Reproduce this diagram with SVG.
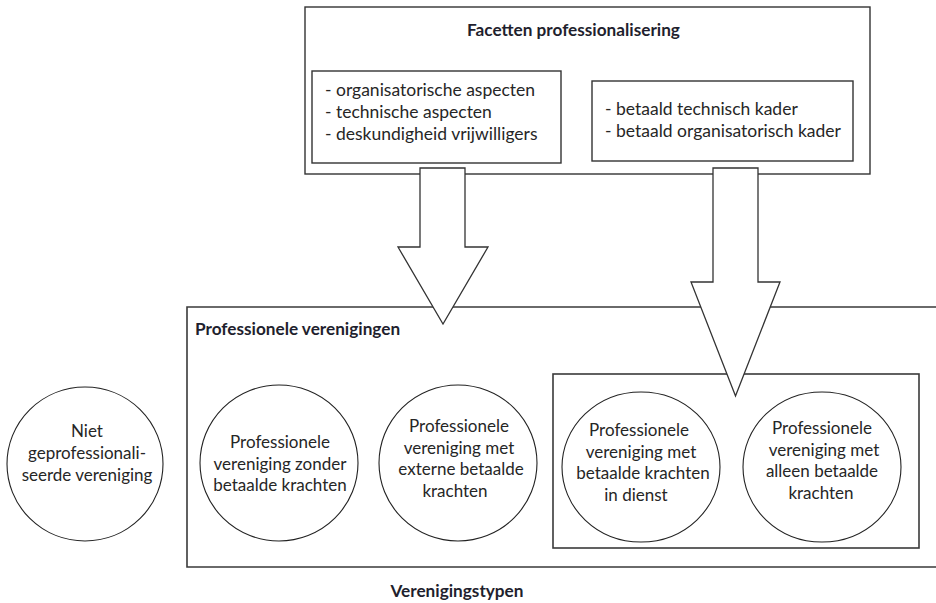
<svg xmlns="http://www.w3.org/2000/svg" width="936" height="603" viewBox="0 0 936 603">
<style>
.box{fill:#fff;stroke:#333;stroke-width:1.4}
.frame{fill:none;stroke:#3a3a3a;stroke-width:1.6}
.circ{fill:#fff;stroke:#222;stroke-width:1.1}
.arrow{fill:#fff;stroke:#333;stroke-width:1.3;stroke-linejoin:miter}
.t{font-family:Lato,"Open Sans",sans-serif;font-size:17.5px;fill:#262626}
.c{font-family:Lato,"Open Sans",sans-serif;font-size:17px;fill:#262626;text-anchor:middle}
.h{font-family:Lato,"Open Sans",sans-serif;font-size:17.2px;font-weight:bold;fill:#1f1f2e}
</style>
<rect width="936" height="603" fill="#fff"/>
<g id="facetten">
<rect class="box" x="305" y="7" width="565" height="167"/>
<text class="h" x="467" y="36">Facetten professionalisering</text>
</g>
<g id="facet-links">
<rect class="box" x="312" y="71" width="249" height="92"/>
<text class="t" x="325" y="96">- organisatorische aspecten</text>
<text class="t" x="325" y="118">- technische aspecten</text>
<text class="t" x="325" y="140">- deskundigheid vrijwilligers</text>
</g>
<g id="facet-rechts">
<rect class="box" x="592" y="81" width="261" height="80"/>
<text class="t" x="605" y="115">- betaald technisch kader</text>
<text class="t" x="605" y="137">- betaald organisatorisch kader</text>
</g>
<g id="professionele-verenigingen">
<path class="frame" d="M940 307 H187 V567 H940"/>
<text class="h" x="195" y="335">Professionele verenigingen</text>
</g>
<g id="betaalde-groep">
<rect class="frame" x="553" y="374" width="366" height="174"/>
</g>
<g id="niet">
<ellipse class="circ" cx="85" cy="464" rx="78" ry="77"/>
<text class="c" x="87" y="437">Niet</text>
<text class="c" x="87" y="459">geprofessionali-</text>
<text class="c" x="87" y="481">seerde vereniging</text>
</g>
<g id="zonder">
<ellipse class="circ" cx="279" cy="463" rx="79" ry="78"/>
<text class="c" x="280" y="448">Professionele</text>
<text class="c" x="280" y="469.5">vereniging zonder</text>
<text class="c" x="280" y="491">betaalde krachten</text>
</g>
<g id="extern">
<ellipse class="circ" cx="458" cy="463" rx="79" ry="78"/>
<text class="c" x="459" y="432">Professionele</text>
<text class="c" x="459" y="453.5">vereniging met</text>
<text class="c" x="461" y="475">externe betaalde</text>
<text class="c" x="455" y="496.5">krachten</text>
</g>
<g id="in-dienst">
<ellipse class="circ" cx="641" cy="467" rx="79" ry="75"/>
<text class="c" x="639" y="436">Professionele</text>
<text class="c" x="641" y="457.5">vereniging met</text>
<text class="c" x="643" y="479">betaalde krachten</text>
<text class="c" x="636" y="500.5">in dienst</text>
</g>
<g id="alleen">
<ellipse class="circ" cx="822" cy="467" rx="79" ry="75"/>
<text class="c" x="822" y="434">Professionele</text>
<text class="c" x="824" y="455.5">vereniging met</text>
<text class="c" x="822" y="477">alleen betaalde</text>
<text class="c" x="821" y="498.5">krachten</text>
</g>
<g id="connectors">
<path class="arrow" d="M420 168 H465 V247 H488 L443 324 L398 247 H420 Z"/>
<path class="arrow" d="M713 168 H758 V282 H780 L735.5 396 L691 282 H713 Z"/>
</g>
<text class="h" x="457" y="597" text-anchor="middle">Verenigingstypen</text>
</svg>
